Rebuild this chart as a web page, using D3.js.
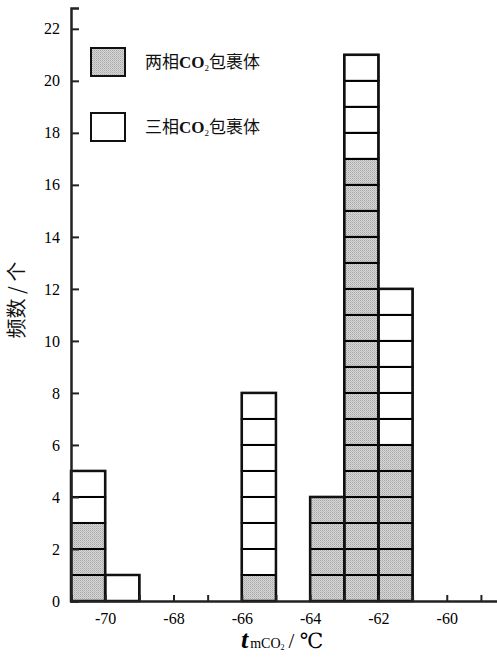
<!DOCTYPE html>
<html>
<head>
<meta charset="utf-8">
<script src="https://cdn.jsdelivr.net/npm/d3@7"></script>
<style>
  html, body { margin: 0; padding: 0; background: #fff; }
  svg { display: block; }
</style>
</head>
<body>
<svg id="chart" width="497" height="660"></svg>
<script>
// Bin lower edges (°C), each bin is 1 °C wide
const binStarts = [-71, -70, -66, -64, -63, -62];
// Counts per bin
const twoPhase = [3, 0, 1, 4, 17, 6];    // 两相CO2包裹体
const threePhase = [2, 1, 7, 0, 4, 6];   // 三相CO2包裹体
const xTickValues = [-71, -70, -69, -68, -67, -66, -65, -64, -63, -62, -61, -60, -59];
const xLabelValues = [-70, -68, -66, -64, -62, -60];
const yTickValues = [0, 2, 4, 6, 8, 10, 12, 14, 16, 18, 20, 22];
const seriesNames = ["两相", "三相"];

const svg = d3.select("#chart");
const serif = '"Liberation Serif", "Times New Roman", "DejaVu Serif", serif';
const cjk = '"Noto Sans CJK SC", "Noto Sans", sans-serif';

const x = d3.scaleLinear().domain([-71, -58.5]).range([71, 498]);
const y = d3.scaleLinear().domain([0, 22.8]).range([601, 8]);

// Stipple-like gray pattern
const defs = svg.append("defs");
const pat = defs.append("pattern").attr("id", "stip")
  .attr("width", 2).attr("height", 2).attr("patternUnits", "userSpaceOnUse");
pat.append("rect").attr("width", 2).attr("height", 2).attr("fill", "#d6d6d6");
pat.append("rect").attr("width", 1).attr("height", 1).attr("fill", "#a8a8a8");
pat.append("rect").attr("x", 1).attr("y", 1).attr("width", 1).attr("height", 1).attr("fill", "#bdbdbd");

// Expand each bin into unit cells
const cells = [];
binStarts.forEach((b, i) => {
  for (let k = 0; k < twoPhase[i]; k++) cells.push({ x0: b, level: k, gray: true });
  for (let k = 0; k < threePhase[i]; k++) cells.push({ x0: b, level: twoPhase[i] + k, gray: false });
});

svg.append("g").selectAll("rect").data(cells).join("rect")
  .attr("x", d => x(d.x0))
  .attr("y", d => y(d.level + 1))
  .attr("width", d => x(d.x0 + 1) - x(d.x0))
  .attr("height", d => y(d.level) - y(d.level + 1))
  .attr("fill", d => d.gray ? "url(#stip)" : "#fff")
  .attr("stroke", "#000")
  .attr("stroke-width", 2);

// Bar outlines
svg.append("g").selectAll("rect").data(binStarts.map((b, i) => ({ b, t: twoPhase[i] + threePhase[i] })))
  .join("rect")
  .attr("x", d => x(d.b))
  .attr("y", d => y(d.t))
  .attr("width", d => x(d.b + 1) - x(d.b))
  .attr("height", d => y(0) - y(d.t))
  .attr("fill", "none")
  .attr("stroke", "#111")
  .attr("stroke-width", 2.5);

// X axis: inward ticks at every degree, labels at even degrees
const xAxis = d3.axisBottom(x).tickValues(xTickValues).tickSize(-6).tickPadding(12)
  .tickFormat(d => xLabelValues.includes(d) ? String(d) : "");
const gx = svg.append("g").attr("transform", `translate(0,${y(0)})`).call(xAxis);
gx.select(".domain").attr("stroke", "#222").attr("stroke-width", 2.5);
gx.selectAll(".tick line").attr("stroke", "#222").attr("stroke-width", 2);
gx.selectAll(".tick text").attr("fill", "#000")
  .style("font-family", serif).style("font-size", "16px");

// Y axis: inward ticks
const yAxis = d3.axisLeft(y).tickValues(yTickValues).tickSize(-8).tickPadding(11);
const gy = svg.append("g").attr("transform", `translate(${x(-71)},0)`).call(yAxis);
gy.select(".domain").attr("stroke", "#222").attr("stroke-width", 2.5);
gy.selectAll(".tick line").attr("stroke", "#222").attr("stroke-width", 2);
gy.selectAll(".tick text").attr("fill", "#000")
  .style("font-family", serif).style("font-size", "16px");

// Legend
const legend = svg.append("g");
const legY = [48, 113];
seriesNames.forEach((name, i) => {
  legend.append("rect").attr("x", 91).attr("y", legY[i]).attr("width", 34).attr("height", 28)
    .attr("fill", i === 0 ? "url(#stip)" : "#fff").attr("stroke", "#111").attr("stroke-width", 2);
  const t = legend.append("text").attr("x", 145).attr("y", legY[i] + 20)
    .style("font-size", "17px").attr("fill", "#111");
  t.append("tspan").style("font-family", cjk).text(name);
  t.append("tspan").style("font-family", serif).style("font-weight", "bold").text("CO");
  t.append("tspan").style("font-family", serif).style("font-size", "9px").attr("dy", 3).text("2");
  t.append("tspan").style("font-family", cjk).attr("dy", -3).text("包裹体");
});

// X axis title
const xt = svg.append("text").attr("x", 241).attr("y", 648).attr("fill", "#000");
xt.append("tspan").style("font-family", serif).style("font-style", "italic").style("font-weight", "bold")
  .style("font-size", "26px").text("t");
xt.append("tspan").style("font-family", serif).style("font-size", "14px").attr("dx", 2).text("mCO");
xt.append("tspan").style("font-family", serif).style("font-size", "8px").attr("dy", 2).text("2");
xt.append("tspan").style("font-family", serif).style("font-size", "21px").attr("dy", -2).attr("dx", 4).text("/ ℃");

// Y axis title
svg.append("text")
  .attr("transform", "translate(24,300) rotate(-90)")
  .attr("text-anchor", "middle")
  .style("font-family", cjk).style("font-size", "20px").attr("fill", "#111")
  .text("频数 / 个");
</script>
</body>
</html>
